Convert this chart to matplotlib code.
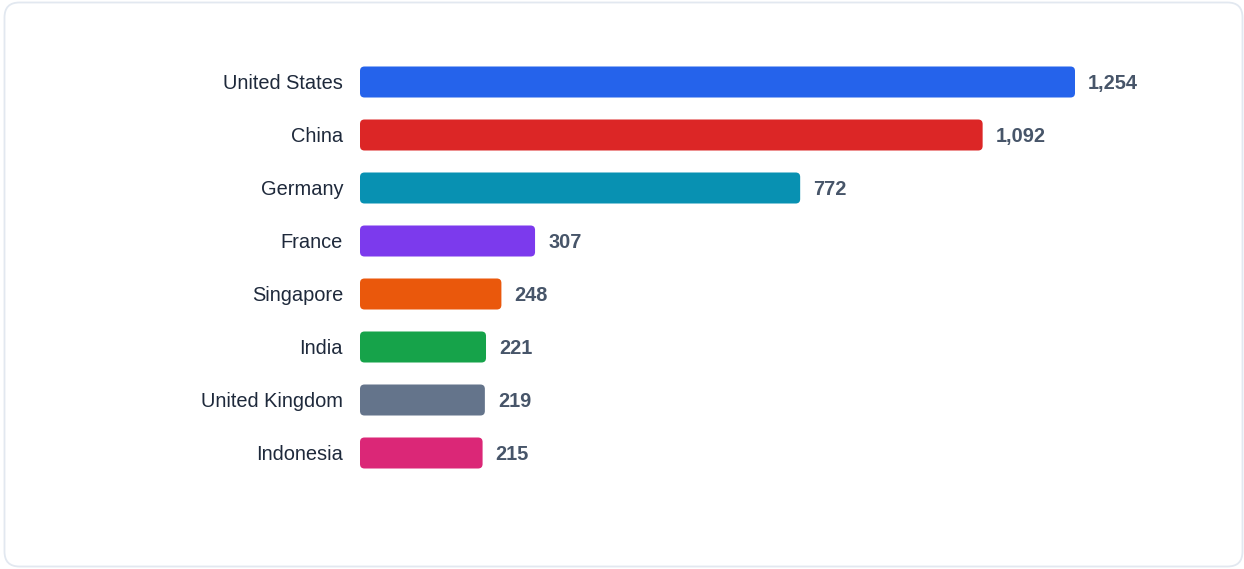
import matplotlib.pyplot as plt
from matplotlib.patches import FancyBboxPatch

plt.rcParams['font.family'] = ['Liberation Sans', 'DejaVu Sans']

countries = ['United States', 'China', 'Germany', 'France', 'Singapore',
             'India', 'United Kingdom', 'Indonesia']
values = [1254, 1092, 772, 307, 248, 221, 219, 215]
colors = ['#2563eb', '#dc2626', '#0891b2', '#7c3aed', '#ea580c',
          '#16a34a', '#64748b', '#db2777']

W, H = 1244, 569
fig = plt.figure(figsize=(W / 100, H / 100), dpi=100)

# card outline, kept behind the axes
card = FancyBboxPatch((4.5 / W, 2.5 / H), 1238 / W, 564 / H,
                      boxstyle='round,pad=0,rounding_size=0.012',
                      mutation_aspect=W / H,
                      transform=fig.transFigure, facecolor='white',
                      edgecolor='#e2e8f0', linewidth=1.3, zorder=-1)
fig.patches.append(card)

ax = fig.add_axes([360 / W, 89.5 / H, 715 / W, 424 / H])
ax.set_xlim(0, 1254)
ax.set_ylim(len(countries) - 0.5, -0.5)
ax.axis('off')
ax.set_zorder(2)

# data units per pixel, for corner rounding and text offsets
x_per_px = 1254 / 715
y_per_px = 8 / 424
r_px = 4.5
bh = 0.585
fs = 14.4
base = 7.3 * y_per_px  # baseline sits half a cap height below bar centre

for i, (name, v, c) in enumerate(zip(countries, values, colors)):
    bar = FancyBboxPatch((0, i - bh / 2), v, bh,
                         boxstyle=f'round,pad=0,rounding_size={r_px * x_per_px}',
                         mutation_aspect=y_per_px / x_per_px,
                         facecolor=c, edgecolor='none')
    ax.add_patch(bar)
    ax.text(-17 * x_per_px, i + base, name, ha='right', va='baseline',
            fontsize=fs, color='#1e293b', clip_on=False)
    ax.text(v + 13 * x_per_px, i + base, f'{v:,}', ha='left', va='baseline',
            fontsize=fs, fontweight='bold', color='#475569', clip_on=False)

fig.savefig('out.png', dpi=100)
